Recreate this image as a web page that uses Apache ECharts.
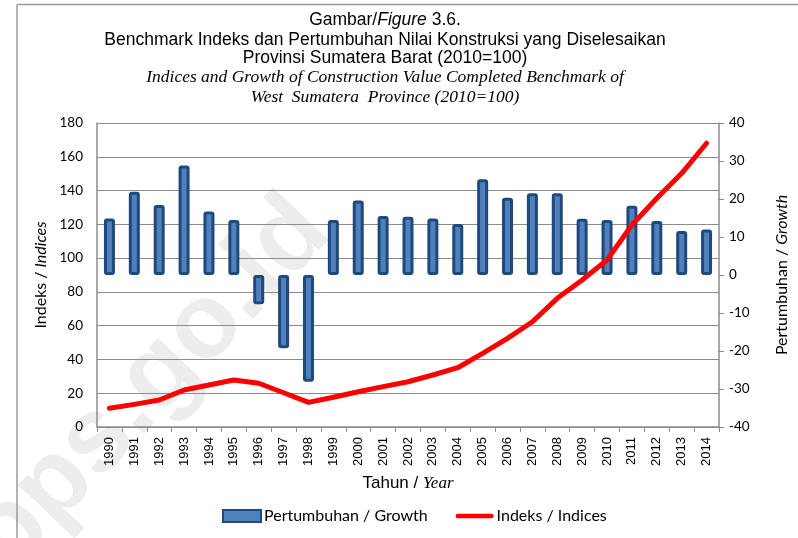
<!DOCTYPE html>
<html>
<head>
<meta charset="utf-8">
<script src="https://cdn.jsdelivr.net/npm/echarts@6/dist/echarts.min.js"></script>
<style>
  html, body { margin: 0; padding: 0; background: #fff; }
  #chart { width: 798px; height: 538px; }
</style>
</head>
<body>
<div id="chart"></div>
<script>
// tahun / year
const years = ['1990', '1991', '1992', '1993', '1994', '1995', '1996', '1997', '1998', '1999',
  '2000', '2001', '2002', '2003', '2004', '2005', '2006', '2007', '2008', '2009',
  '2010', '2011', '2012', '2013', '2014'];

// pertumbuhan / growth (%), sumbu kanan
const growth = [14.9, 21.9, 18.4, 28.8, 16.7, 14.5, -7.7, -19.3, -28.1, 14.5,
  19.6, 15.5, 15.3, 14.9, 13.4, 25.2, 20.3, 21.5, 21.5, 14.8,
  14.5, 18.2, 14.2, 11.6, 12.0];

// indeks / indices (2010=100), sumbu kiri
const indices = [11.1, 13.4, 16.0, 21.9, 24.9, 27.8, 25.9, 20.3, 14.6, 17.6,
  20.9, 23.9, 26.8, 30.8, 35.1, 43.6, 52.5, 62.3, 76.2, 87.0,
  98.9, 119.6, 135.4, 150.2, 168.0];

const chart = echarts.init(document.getElementById('chart'));

const sans = 'Liberation Sans, Arial, sans-serif';
const calib = 'Lato, Open Sans, sans-serif';
const serif = 'Liberation Serif, Times New Roman, serif';
const gray = '#8c8c8c';

// satu baris judul
const titleLine = (text, top, font, italic) => ({
  text: text,
  left: 385, top: top, textAlign: 'center', padding: 0,
  textStyle: {
    fontFamily: font, fontSize: 17.5, fontWeight: 'normal', color: '#000',
    fontStyle: italic ? 'italic' : 'normal', lineHeight: 20,
    rich: { i: { fontFamily: font, fontSize: 17.5, fontStyle: 'italic', color: '#000', lineHeight: 20 } }
  }
});

const option = {
  backgroundColor: '#fff',
  animation: false,
  title: [
    titleLine('Gambar/{i|Figure} 3.6.', 10, sans, false),
    titleLine('Benchmark Indeks dan Pertumbuhan Nilai Konstruksi yang Diselesaikan', 30, sans, false),
    titleLine('Provinsi Sumatera Barat (2010=100)', 48, sans, false),
    titleLine('Indices and Growth of Construction Value Completed Benchmark of', 67, serif, true),
    titleLine('West  Sumatera  Province (2010=100)', 87, serif, true)
  ],
  graphic: [
    { type: 'line', shape: { x1: 17, y1: 4.5, x2: 798, y2: 4.5 }, style: { stroke: '#9a9a9a', lineWidth: 1.5 }, z: 0 },
    { type: 'line', shape: { x1: 17, y1: 4.5, x2: 17, y2: 538 }, style: { stroke: '#9a9a9a', lineWidth: 1.5 }, z: 0 },
    {
      type: 'text', x: 150, y: 385, rotation: 0.81, z: -10, silent: true,
      style: {
        text: 'bps.go.id', fill: 'rgba(0,0,0,0.07)',
        font: 'bold 106px Liberation Sans, Arial, sans-serif',
        textAlign: 'center', textVerticalAlign: 'middle'
      }
    }
  ],
  legend: {
    left: 217, top: 503,
    itemGap: 28, itemWidth: 38, itemHeight: 12,
    textStyle: { fontFamily: calib, fontSize: 16, color: '#000', padding: [0, 0, 0, -2] },
    data: [
      { name: 'Pertumbuhan / Growth', icon: 'rect' },
      { name: 'Indeks / Indices', icon: 'path://M2.5,0h37a2.5,2.5,0,0,1,0,5h-37a2.5,2.5,0,0,1,0,-5z' }
    ]
  },
  grid: { left: 97, right: 76, top: 123, bottom: 111 },
  xAxis: {
    type: 'category',
    data: years,
    name: 'Tahun / {i|Year}',
    nameLocation: 'middle',
    nameGap: 48,
    nameTextStyle: {
      fontFamily: sans, fontSize: 17, color: '#000',
      rich: { i: { fontFamily: serif, fontSize: 17, fontStyle: 'italic', color: '#000' } }
    },
    axisLine: { lineStyle: { color: gray, width: 1.5 } },
    axisTick: { show: true, length: 5, lineStyle: { color: gray, width: 1 } },
    axisLabel: { rotate: 90, fontFamily: sans, fontSize: 13, color: '#000', margin: 10 }
  },
  yAxis: [
    {
      type: 'value', min: 0, max: 180, interval: 20, position: 'left',
      name: 'Indeks / {i|Indices}',
      nameLocation: 'middle', nameGap: 47, nameRotate: 90,
      nameTextStyle: {
        fontFamily: calib, fontSize: 16, color: '#000',
        rich: { i: { fontFamily: calib, fontSize: 16, fontStyle: 'italic', color: '#000' } }
      },
      axisLine: { show: true, lineStyle: { color: gray, width: 1.5 } },
      axisTick: { show: false },
      axisLabel: { fontFamily: calib, fontSize: 13.5, color: '#000', margin: 14 },
      splitLine: { show: true, lineStyle: { color: gray, width: 1 } }
    },
    {
      type: 'value', min: -40, max: 40, interval: 10, position: 'right',
      name: 'Pertumbuhan / {i|Growth}',
      nameLocation: 'middle', nameGap: 55, nameRotate: 90,
      nameTextStyle: {
        fontFamily: calib, fontSize: 16, color: '#000',
        rich: { i: { fontFamily: calib, fontSize: 16, fontStyle: 'italic', color: '#000' } }
      },
      axisLine: { show: true, lineStyle: { color: gray, width: 1.5 } },
      axisTick: { show: true, inside: false, length: 5, lineStyle: { color: gray } },
      axisLabel: { fontFamily: calib, fontSize: 13.5, color: '#000', margin: 10 },
      splitLine: { show: false }
    }
  ],
  series: [
    {
      name: 'Pertumbuhan / Growth',
      type: 'bar',
      yAxisIndex: 1,
      data: growth,
      barWidth: 11,
      itemStyle: { color: '#4f81bd', borderColor: '#1f497d', borderWidth: 3, borderRadius: 1.5 },
      z: 2
    },
    {
      name: 'Indeks / Indices',
      type: 'line',
      yAxisIndex: 0,
      data: indices,
      symbol: 'none',
      lineStyle: { color: '#ff0000', width: 5, cap: 'round', join: 'round' },
      itemStyle: { color: '#ff0000' },
      z: 3
    }
  ]
};

chart.setOption(option);

window.addEventListener('resize', () => chart.resize());
</script>
</body>
</html>
